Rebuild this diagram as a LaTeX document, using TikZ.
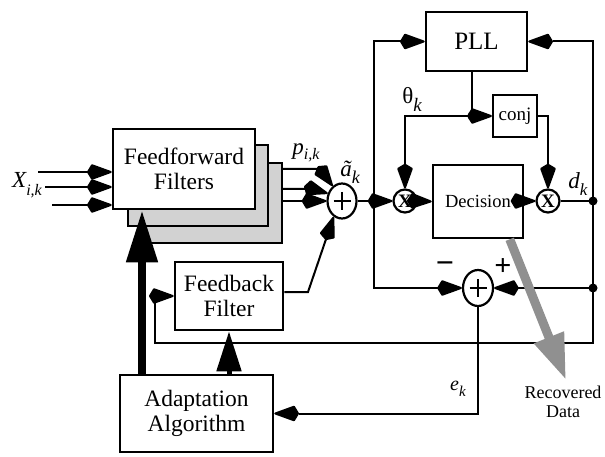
\documentclass[tikz,border=0pt]{standalone}
\usepackage{fontspec}
\setmainfont{Liberation Serif}
\usetikzlibrary{arrows.meta,shapes.geometric}
\begin{document}
\begin{tikzpicture}[x=1pt,y=-1pt,
  box/.style={draw, line width=2.6pt, fill=white, inner sep=0pt, align=center, font=\fontsize{23.5}{25}\selectfont},
  shadowbox/.style={draw, line width=2.2pt, fill=gray!35, inner sep=0pt},
  wire/.style={line width=2pt, line join=miter},
  arr/.style={line width=2pt, line join=miter, -{Stealth[length=22pt,width=15pt,inset=-5pt,round]}},
  bigarr/.style={line width=8pt, -{Triangle[length=52pt,width=30pt]}},
  midarr/.style={line width=5pt, -{Triangle[length=40pt,width=24pt]}},
  grayarr/.style={line width=9pt, draw=gray!55!black!60, -{Triangle[length=46pt,width=30pt]}},
  mult/.style={circle, draw, line width=2.2pt, fill=white, minimum size=23pt, inner sep=0pt, font=\fontsize{19}{19}\selectfont\bfseries},
  summer/.style={ellipse, draw, line width=2.2pt, fill=white, inner sep=0pt},
  lbl/.style={inner sep=0pt, font=\fontsize{23}{23}\selectfont\itshape}
]
\useasboundingbox (0,0) rectangle (605,457);

% feedforward filter bank
\node[shadowbox, minimum width=139pt, minimum height=80pt] (ffs2) at (212.5,203) {};
\node[shadowbox, minimum width=140pt, minimum height=81pt] (ffs1) at (198,185.5) {};
\node[box, minimum width=142pt, minimum height=80pt] (ff) at (184,169) {Feedforward\\Filters};

% other blocks
\node[box, minimum width=108pt, minimum height=68pt] (fb) at (229,296) {Feedback\\Filter};
\node[box, minimum width=153pt, minimum height=77pt] (adapt) at (196.5,413.5) {Adaptation\\Algorithm};
\node[box, minimum width=101pt, minimum height=59pt, font=\fontsize{25}{25}\selectfont] (pll) at (476.5,41.5) {PLL};
\node[box, minimum width=44pt, minimum height=42pt, line width=2.2pt, font=\fontsize{19}{19}\selectfont] (conj) at (515,116) {conj};
\node[box, minimum width=90pt, minimum height=73pt, font=\fontsize{18.5}{18.5}\selectfont] (dec) at (478,201.5) {Decision};
\node[mult] (m1) at (405,201) {X};
\node[mult] (m2) at (548,201) {X};
\node[summer, minimum width=29pt, minimum height=35pt] (s1) at (342,201) {};
\node[summer, minimum width=30pt, minimum height=36pt] (s2) at (478,288) {};
\draw[line width=2.6pt] (s1.center) +(-8.5,0) -- +(8.5,0) (s1.center) +(0,-9) -- +(0,9);
\draw[line width=2.6pt] (s2.center) +(-8.5,0) -- +(8.5,0) (s2.center) +(0,-9) -- +(0,9);

% junctions
\coordinate (jL) at (374,201);
\coordinate (jR) at (593,201);
\coordinate (jR2) at (593,288);
\coordinate (jP) at (472,116);
\coordinate (cB1) at (593,343);
\coordinate (cB2) at (155,343);
\coordinate (in1) at (38,172);
\coordinate (in2) at (45,187);
\coordinate (in3) at (52,205);
\coordinate (o1) at (320,169);
\coordinate (o2) at (313,189);
\coordinate (o3) at (282,201);
\coordinate (fbo) at (308,292);
\coordinate (thk) at (142,0);
\coordinate (rd) at (566,380);

% inputs
\draw[arr] (in1) -- (in1 -| ff.west);
\draw[arr] (in2) -- (in2 -| ff.west);
\draw[arr] (in3) -- (in3 -| ff.west);

% filter outputs to summer
\draw[arr] (o1 -| ffs2.east) -- (o1) -- (s1.122);
\draw[arr] (o2 -| ffs2.east) -- (o2) -- (s1.152);
\draw[arr] (o3) -- (s1.west);
\draw[arr] (fb.east |- fbo) -- (fbo) -- (s1.242);

% loop
\draw[wire] (s1.east) -- (jL);
\draw[arr] (jL) |- (pll.west);
\draw[arr] (jL) -- (m1.west);
\draw[arr] (jL) |- (s2.west);
\draw[arr] (m1.east) -- (dec.west);
\draw[arr] (dec.east |- m2) -- (m2.west);
\draw[wire] (m2.east) -- (jR);
\draw[arr] (jR) |- (pll.east);
\draw[wire] (jR) -- (jR2);
\draw[arr] (jR2) -- (s2.east);
\draw[arr] (jR2) -- (cB1) -- (cB2) |- (fb.west);
\draw[wire] (jP |- pll.south) -- (jP);
\draw[arr] (jP) -- (conj.west);
\draw[arr] (jP) -| (m1.north);
\draw[arr] (conj.east) -| (m2.north);
\draw[arr] (s2.south) |- (adapt.east);

\fill (jL) circle (4.5pt);
\fill (jR) circle (4.5pt);
\fill (jR2) circle (4.5pt);
\fill (jP) circle (4.5pt);

% thick adaptation arrows
\draw[bigarr] (adapt.north -| thk) -- (ff.south -| thk);
\draw[midarr] (adapt.north -| fb.south) -- (fb.south);

% recovered data
\draw[grayarr] (dec.-50) -- (rd);
\node[align=center, inner sep=0pt, font=\fontsize{18}{19}\selectfont] (rdl) at (563,402) {Recovered\\Data};

% labels
\node[lbl] (lx) at (27,185) {X\raisebox{-0.35em}{\fontsize{16}{16}\selectfont\itshape i,k}};
\node[lbl] (lp) at (306,153) {p\raisebox{-0.2em}{\fontsize{16}{16}\selectfont\itshape i,k}};
\node[lbl] (la) at (350,172) {ã\raisebox{-0.3em}{\fontsize{18}{18}\selectfont\itshape k}};
\node[inner sep=0pt, font=\fontsize{23}{23}\selectfont] (lt) at (412,99) {θ\raisebox{-0.35em}{\fontsize{19}{19}\selectfont\itshape k}};
\node[lbl] (ld) at (578,184) {d\raisebox{-0.3em}{\fontsize{17}{17}\selectfont\itshape k}};
\node[lbl, font=\fontsize{20}{20}\selectfont\itshape] (le) at (458,389) {e\raisebox{-0.3em}{\fontsize{15}{15}\selectfont\itshape k}};
\node[inner sep=0pt, font=\fontsize{32}{32}\selectfont\bfseries] (lminus) at (445,268) {\textminus};
\node[inner sep=0pt, font=\fontsize{30}{30}\selectfont\bfseries] (lplus) at (503,267) {+};
\end{tikzpicture}
\end{document}
